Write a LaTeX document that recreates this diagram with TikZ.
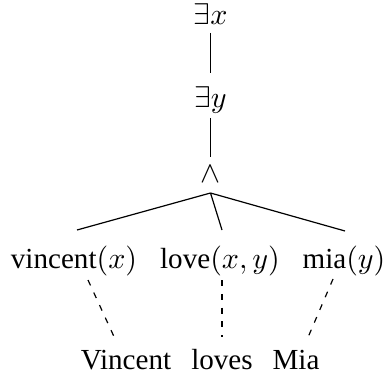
\documentclass[tikz,border=0pt]{standalone}
\usepackage{fontspec}
\setmainfont{Liberation Serif}
\usetikzlibrary{calc}
\begin{document}
\begin{tikzpicture}[x=0.3333pt,y=-0.3333pt,
  lbl/.style={inner sep=0pt,anchor=base,font=\fontsize{9.7}{11}\selectfont},
  edge/.style={line width=0.4pt},
  dedge/.style={line width=0.4pt,dash pattern=on 2pt off 2.6pt}]
\useasboundingbox (0,0) rectangle (386,381);
\node[lbl] (ex) at (210.5,25) {$\exists x$};
\node[lbl] (ey) at (210.5,108) {$\exists y$};
\node[lbl] (and) at (210.5,183) {$\wedge$};
\node[lbl] (vin) at (74,268) {vincent$(x)$};
\node[lbl] (lov) at (220,268) {love$(x,y)$};
\node[lbl] (mia) at (344,268) {mia$(y)$};
\node[lbl] (Vin) at (126,369) {Vincent};
\node[lbl] (Lov) at (222,369) {loves};
\node[lbl] (Mia) at (296,369) {Mia};
\draw[edge] ($(ex.base)+(0,8)$) -- ($(ey.base)+(0,-35)$);
\draw[edge] ($(ey.base)+(0,10)$) -- ($(and.base)+(0,-26)$);
\draw[edge] ($(and.base)+(0,10)$) -- ($(vin.base)+(3,-38)$);
\draw[edge] ($(and.base)+(0,10)$) -- ($(lov.base)+(2,-38)$);
\draw[edge] ($(and.base)+(0,10)$) -- ($(mia.base)+(1,-37)$);
\draw[dedge] ($(vin.base)+(14,12)$) -- ($(Vin.base)+(-10,-28)$);
\draw[dedge] ($(lov.base)+(2,12)$) -- ($(Lov.base)+(0,-32)$);
\draw[dedge] ($(mia.base)+(-11,11)$) -- ($(Mia.base)+(10,-27)$);
\end{tikzpicture}
\end{document}
